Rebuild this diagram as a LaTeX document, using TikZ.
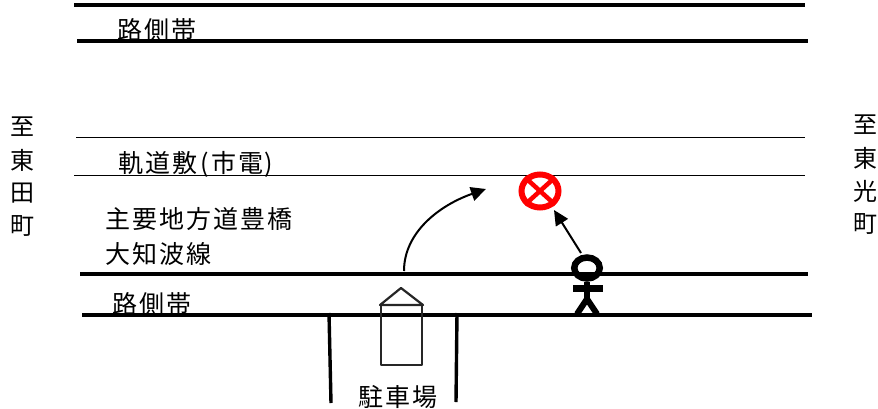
\documentclass[tikz,border=0pt]{standalone}
\usepackage{fontspec}
\usetikzlibrary{arrows.meta,shapes.geometric}
\newfontfamily\cjkA[LetterSpace=0]{Noto Sans CJK JP}
\newfontfamily\cjkB[LetterSpace=8]{Noto Sans CJK JP}
\tikzset{
  x=1pt,y=-1pt,
  lbl/.style={inner sep=0pt,font=\fontsize{25}{25}\selectfont\cjkB,text=black,anchor=west},
  vlbl/.style={inner sep=0pt,font=\fontsize{24}{24}\selectfont\cjkA,text=black,anchor=center},
  heavy/.style={line width=4pt,draw=black},
  thinline/.style={line width=1pt,draw=black},
  post/.style={line width=3.4pt,draw=black},
  car/.style={line width=2.2pt,draw=black!85,line join=round},
  pathline/.style={line width=2pt,draw=black,-{Triangle[length=15pt,width=14pt]}},
  stick/.style={line width=5.5pt,draw=black}
}
\begin{document}
\begin{tikzpicture}
\useasboundingbox (0,0) rectangle (878,408);
% labels
\node[lbl] (t1) at (117,30) {路側帯};
\node[lbl] (t2) at (118,164) {軌道敷\kern3pt(\kern3pt市電\kern1pt)};
\node[lbl] (t3) at (105,219) {主要地方道豊橋};
\node[lbl] (t4) at (105,254) {大知波線};
\node[lbl] (t5) at (112,304) {路側帯};
\node[lbl] (t6) at (358,397) {駐車場};
\foreach \c/\y/\n in {至/127/a,東/160/b,田/193/c,町/226/d}
  \node[vlbl] (l\n) at (22,\y) {\c};
\foreach \c/\y/\n in {至/125/a,東/158/b,光/191/c,町/224/d}
  \node[vlbl] (r\n) at (865.5,\y) {\c};
% road lines
\draw[heavy] (74,5) -- (805,5);
\draw[heavy] (77,41) -- (808,41);
\draw[thinline] (76,137) -- (805,137);
\draw[thinline] (74,175) -- (805,175);
\draw[line width=3.4pt,draw=black] (80,274) -- (808,274);
\draw[heavy] (82,315) -- (812,315);
% parking posts
\draw[post] (329,313) -- (331,403);
\draw[post] (457,313) -- (456,402);
% car
\draw[car] (381,305) rectangle (422,365);
\draw[car] (380,305) -- (401,288) -- (423,305) -- cycle;
% prohibited mark
\node[ellipse,draw=red,line width=6pt,minimum width=37pt,minimum height=33pt,inner sep=0pt] (nomark) at (540,191) {};
\draw[red,line width=4.5pt] (nomark.north west) -- (nomark.south east);
\draw[red,line width=4.5pt] (nomark.north east) -- (nomark.south west);
% person
\node[ellipse,draw=black,line width=6.5pt,minimum width=25.5pt,minimum height=21pt,inner sep=0pt] (head) at (587,268) {};
\coordinate (hip) at (587,299);
\coordinate (neck) at (587,282);
\draw[line width=7pt,draw=black] (573,288) -- (603,288);
\draw[stick] (neck) -- (hip);
\draw[line width=6pt,draw=black] (577,314) -- (hip) -- (597,314);
% arrows
\coordinate (carfrom) at (404,271);
\coordinate (carto) at (486,189);
\draw[pathline] (carfrom) .. controls (404,232) and (440,205) .. (carto);
\coordinate (pfrom) at (581,253);
\coordinate (pto) at (554,210);
\draw[pathline] (pfrom) -- (pto);
\end{tikzpicture}
\end{document}
